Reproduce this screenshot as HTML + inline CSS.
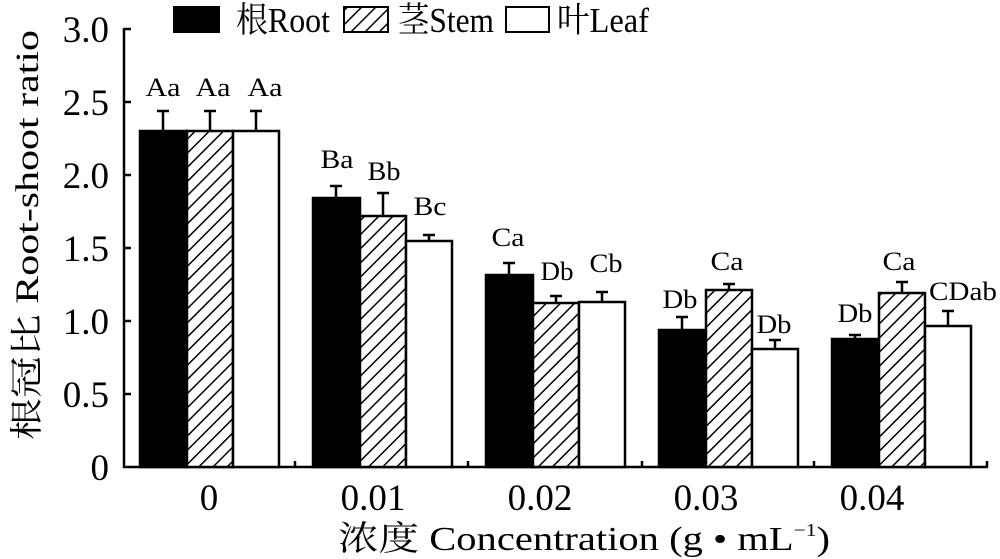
<!DOCTYPE html>
<html><head><meta charset="utf-8"><style>
html,body{margin:0;padding:0;background:#fff;width:1000px;height:559px;overflow:hidden}
svg{display:block}
text{font-family:"Liberation Serif","Noto Serif CJK SC","Noto Sans CJK SC",serif;fill:#000}
</style></head><body>
<svg width="1000" height="559" viewBox="0 0 1000 559" xmlns="http://www.w3.org/2000/svg">
<defs>
<pattern id="h" patternUnits="userSpaceOnUse" width="10" height="10" patternTransform="rotate(45)">
<rect width="10" height="10" fill="#fff"/>
<line x1="0" y1="0" x2="0" y2="10" stroke="#000" stroke-width="3"/>
</pattern>
</defs>
<!-- legend -->
<rect x="173" y="6" width="47" height="27" fill="#000"/>
<text x="236" y="32" font-size="35" textLength="94" lengthAdjust="spacingAndGlyphs">根Root</text>
<rect x="344" y="7" width="44" height="25" fill="url(#h)" stroke="#000" stroke-width="2"/>
<text x="398" y="32" font-size="35" textLength="96" lengthAdjust="spacingAndGlyphs">茎Stem</text>
<rect x="506" y="7" width="43" height="25" fill="#fff" stroke="#000" stroke-width="2"/>
<text x="557" y="32" font-size="35" textLength="92" lengthAdjust="spacingAndGlyphs">叶Leaf</text>
<!-- axes -->
<g stroke="#000" stroke-width="2.5" fill="none">
<line x1="124" y1="28" x2="124" y2="468"/>
<line x1="123" y1="467" x2="988" y2="467"/>
<line x1="124" y1="29" x2="131" y2="29"/>
<line x1="124" y1="102" x2="131" y2="102"/>
<line x1="124" y1="175" x2="131" y2="175"/>
<line x1="124" y1="248" x2="131" y2="248"/>
<line x1="124" y1="321" x2="131" y2="321"/>
<line x1="124" y1="394" x2="131" y2="394"/>
<line x1="295" y1="467" x2="295" y2="461"/>
<line x1="468" y1="467" x2="468" y2="461"/>
<line x1="642" y1="467" x2="642" y2="461"/>
<line x1="814" y1="467" x2="814" y2="461"/>
<line x1="987" y1="467" x2="987" y2="461"/>
</g>
<g font-size="37" text-anchor="end">
<text x="109" y="42">3.0</text><text x="109" y="115">2.5</text><text x="109" y="188">2.0</text>
<text x="109" y="261">1.5</text><text x="109" y="334">1.0</text><text x="109" y="407">0.5</text>
<text x="109" y="480">0</text>
</g>
<text transform="translate(38,440) rotate(-90)" font-size="33" textLength="410" lengthAdjust="spacingAndGlyphs">根冠比 Root-shoot ratio</text>
<g font-size="37" text-anchor="middle">
<text x="209" y="510">0</text><text x="373" y="510">0.01</text><text x="540" y="510">0.02</text>
<text x="706" y="510">0.03</text><text x="872" y="510">0.04</text>
</g>
<text x="338" y="550" font-size="34" textLength="492" lengthAdjust="spacingAndGlyphs">浓度 Concentration (g • mL<tspan font-size="18" dy="-14">−1</tspan><tspan dy="14">)</tspan></text>
<!-- bars -->
<g stroke="#000" stroke-width="2.5">
<rect x="140" y="131" width="47" height="336" fill="#000"/>
<rect x="187" y="131" width="46" height="336" fill="url(#h)"/>
<rect x="233" y="131" width="46" height="336" fill="#fff"/>
<rect x="313" y="198" width="47" height="269" fill="#000"/>
<rect x="360" y="216" width="46" height="251" fill="url(#h)"/>
<rect x="406" y="241" width="46" height="226" fill="#fff"/>
<rect x="486" y="275" width="47" height="192" fill="#000"/>
<rect x="533" y="303" width="46" height="164" fill="url(#h)"/>
<rect x="579" y="302" width="46" height="165" fill="#fff"/>
<rect x="659" y="330" width="47" height="137" fill="#000"/>
<rect x="706" y="290" width="46" height="177" fill="url(#h)"/>
<rect x="752" y="349" width="46" height="118" fill="#fff"/>
<rect x="832" y="339" width="47" height="128" fill="#000"/>
<rect x="879" y="293" width="46" height="174" fill="url(#h)"/>
<rect x="925" y="326" width="46" height="141" fill="#fff"/>
</g>
<!-- error bars -->
<g stroke="#000" stroke-width="2.5" fill="none">
<path d="M163 131V111M157 111H169"/><path d="M210 131V111M204 111H216"/><path d="M256 131V111M250 111H262"/>
<path d="M336 198V186M330 186H342"/><path d="M383 216V193M377 193H389"/><path d="M429 241V235M423 235H435"/>
<path d="M509 275V263M503 263H515"/><path d="M556 303V296M550 296H562"/><path d="M602 302V292M596 292H608"/>
<path d="M682 330V317M676 317H688"/><path d="M729 290V284M723 284H735"/><path d="M775 349V340M769 340H781"/>
<path d="M855 339V335M849 335H861"/><path d="M902 293V282M896 282H908"/><path d="M948 326V311M942 311H954"/>
</g>
<!-- labels -->
<g font-size="26" text-anchor="middle">
<text x="163" y="96" textLength="35" lengthAdjust="spacingAndGlyphs">Aa</text>
<text x="213" y="96" textLength="35" lengthAdjust="spacingAndGlyphs">Aa</text>
<text x="265" y="96" textLength="35" lengthAdjust="spacingAndGlyphs">Aa</text>
<text x="337" y="168" textLength="33" lengthAdjust="spacingAndGlyphs">Ba</text>
<text x="384" y="180" textLength="33" lengthAdjust="spacingAndGlyphs">Bb</text>
<text x="430" y="215" textLength="33" lengthAdjust="spacingAndGlyphs">Bc</text>
<text x="508" y="246" textLength="33" lengthAdjust="spacingAndGlyphs">Ca</text>
<text x="557" y="280" textLength="33" lengthAdjust="spacingAndGlyphs">Db</text>
<text x="606" y="272" textLength="33" lengthAdjust="spacingAndGlyphs">Cb</text>
<text x="680" y="308" textLength="35" lengthAdjust="spacingAndGlyphs">Db</text>
<text x="727" y="270" textLength="33" lengthAdjust="spacingAndGlyphs">Ca</text>
<text x="774" y="333" textLength="35" lengthAdjust="spacingAndGlyphs">Db</text>
<text x="855" y="322" textLength="35" lengthAdjust="spacingAndGlyphs">Db</text>
<text x="899" y="270" textLength="33" lengthAdjust="spacingAndGlyphs">Ca</text>
<text x="963" y="300" textLength="68" lengthAdjust="spacingAndGlyphs">CDab</text>
</g>
</svg>
</body></html>
